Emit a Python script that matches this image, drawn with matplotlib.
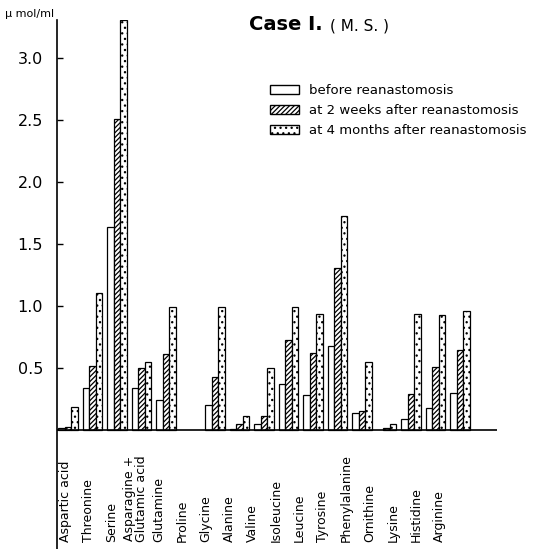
import numpy as np
import matplotlib
matplotlib.use("Agg")
import matplotlib.pyplot as plt
from matplotlib.patches import Patch

# amino acid concentrations (umol/ml), Case I (M.S.)
amino = ['Aspartic acid', 'Threonine', 'Serine', 'Asparagine +\nGlutamic acid',
         'Glutamine', 'Proline', 'Glycine', 'Alanine', 'Valine', 'Isoleucine',
         'Leucine', 'Tyrosine', 'Phenylalanine', 'Ornithine', 'Lysine',
         'Histidine', 'Arginine']
before = [0.015, 0.34, 1.64, 0.34, 0.24, 0.0, 0.20, 0.01, 0.05, 0.37,
          0.28, 0.68, 0.14, 0.0, 0.09, 0.18, 0.30]
weeks2 = [0.025, 0.52, 2.51, 0.50, 0.61, 0.0, 0.43, 0.05, 0.11, 0.73,
          0.62, 1.31, 0.15, 0.02, 0.29, 0.51, 0.65]
months4 = [0.19, 1.11, 3.31, 0.55, 0.99, 0.0, 0.99, 0.11, 0.50, 0.99,
           0.94, 1.73, 0.55, 0.05, 0.94, 0.93, 0.96]
series_labels = ['before reanastomosis', 'at 2 weeks after reanastomosis',
                 'at 4 months after reanastomosis']

plt.rcParams['hatch.linewidth'] = 0.9

fig = plt.figure(figsize=(5.47, 5.49), dpi=100)
# axes spans from x=57px to 497px, y=20px to bottom
ax = fig.add_axes([57 / 547, 0, 440 / 547, 529 / 549])

x = np.arange(len(amino))
w = 0.265
styles = [dict(hatch=None), dict(hatch='///////'), dict(hatch='...')]
for k, (vals, st) in enumerate(zip([before, weeks2, months4], styles)):
    v = np.array(vals)
    m = v > 0
    ax.bar(x[m] + (k - 1) * w, v[m], w, color='white', edgecolor='black',
           linewidth=0.9, hatch=st['hatch'], zorder=2)

ax.axhline(0, color='black', linewidth=1.2, zorder=3)
ax.set_xlim(-0.45, 17.5)
ax.set_ylim(-0.96, 3.31)

ax.spines['top'].set_visible(False)
ax.spines['right'].set_visible(False)
ax.spines['bottom'].set_visible(False)
ax.spines['left'].set_linewidth(1.2)
ax.set_xticks([])
ax.set_yticks([0.5, 1.0, 1.5, 2.0, 2.5, 3.0])
ax.set_yticklabels(['0.5', '1.0', '1.5', '2.0', '2.5', '3.0'], fontsize=11.5)
ax.tick_params(axis='y', direction='in', length=4, width=1, pad=10)

# category labels, rotated, bottom aligned
for i, name in enumerate(amino):
    ax.text(-0.12 + i * 0.955, -0.9, name, rotation=90, ha='center',
            va='bottom', fontsize=9, linespacing=0.95)

fig.text(0.01, 0.975, 'μ mol/ml', fontsize=8, ha='left', va='center')
fig.text(0.455, 0.955, 'Case I.', fontsize=14, fontweight='bold',
         ha='left', va='center')
fig.text(0.604, 0.952, '( M. S. )', fontsize=11, ha='left', va='center')

handles = [Patch(facecolor='white', edgecolor='black', hatch=st['hatch'])
           for st in styles]
leg = fig.legend(handles, series_labels, loc='upper left',
                 bbox_to_anchor=(258 / 547, 1 - 72 / 549), frameon=False,
                 fontsize=9.5, handlelength=2.2, handleheight=0.7,
                 labelspacing=0.55, handletextpad=0.8)

plt.savefig('out.png', dpi=100)
